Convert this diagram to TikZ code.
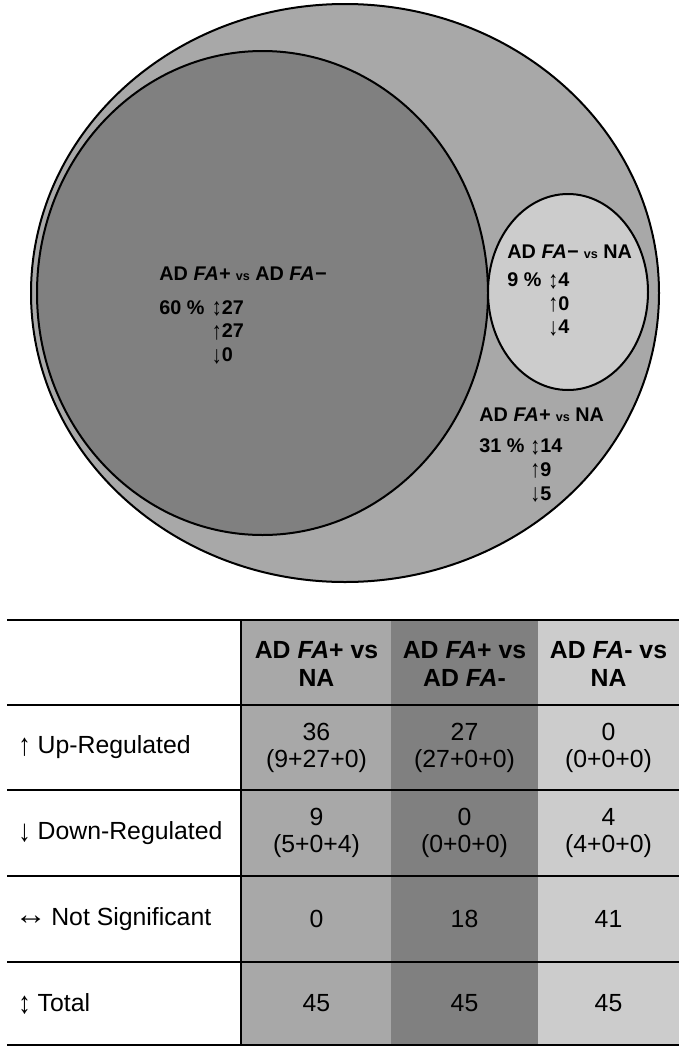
\documentclass[tikz,border=0pt]{standalone}
\usepackage{fontspec}
\setmainfont{Liberation Sans}
\usepackage{tikz}
\definecolor{midgray}{gray}{0.66}
\definecolor{darkgray}{gray}{0.50}
\definecolor{lightgray}{gray}{0.80}
% thin, tall arrow glyphs
\newcommand{\arw}[1]{\raisebox{-0.08em}{\scalebox{1}[1.25]{\mdseries#1}}}
\newcommand{\updn}{\arw{↕}}
\newcommand{\upar}{\arw{↑}}
\newcommand{\dnar}{\arw{↓}}
\newcommand{\lrar}{\hspace{-0.15em}\raisebox{0.05em}{\scalebox{1.3}[1.2]{↔}}\hspace{-0.1em}}
\newcommand{\vsm}{{\fontsize{6.3}{6}\selectfont vs}}
\tikzset{
  px/.style={x=0.5pt, y=-0.5pt},
  setline/.style={black, line width=1pt},
  tabline/.style={black, line width=1.3pt},
  vlbl/.style={font=\bfseries\fontsize{9.9}{10}\selectfont, inner sep=0pt, anchor=base west},
  rowlbl/.style={font=\fontsize{12.4}{13.5}\selectfont, inner sep=0pt, anchor=west},
  cell/.style={font=\fontsize{12.4}{13.5}\selectfont, inner sep=0pt, align=center},
  head/.style={cell, font=\bfseries\fontsize{12.4}{14}\selectfont},
}
\begin{document}
\begin{tikzpicture}[px]
  \useasboundingbox (0,0) rectangle (679,1050);
  % --- Euler diagram: outer set, dark set, light set ---
  \draw[setline, fill=midgray] (345,293) ellipse [x radius=314, y radius=289];
  \draw[setline, fill=darkgray] (262.5,293) ellipse [x radius=225.5, y radius=242];
  \draw[setline, fill=lightgray] (568,292) ellipse [x radius=80, y radius=98];

  % --- labels inside the dark set ---
  \node[vlbl] (dtitle) at (159,280) {AD \textit{FA+} \vsm{} AD \textit{FA−}};
  \node[vlbl] (dpct) at (159,314) {60 \%};
  \node[vlbl] (dtot) at (211.5,314) {\updn27};
  \node[vlbl] (dup)  at (211.5,337.5) {\upar27};
  \node[vlbl] (ddn)  at (211.5,361.5) {\dnar0};

  % --- labels inside the light set ---
  \node[vlbl] (ltitle) at (507,258.5) {AD \textit{FA−} \vsm{} NA};
  \node[vlbl] (lpct) at (507,286.5) {9 \%};
  \node[vlbl] (ltot) at (548,286.5) {\updn4};
  \node[vlbl] (lup)  at (548,310) {\upar0};
  \node[vlbl] (ldn)  at (548,333.5) {\dnar4};

  % --- labels in the outer set ---
  \node[vlbl] (mtitle) at (479,421.5) {AD \textit{FA+} \vsm{} NA};
  \node[vlbl] (mpct) at (479,452.5) {31 \%};
  \node[vlbl] (mtot) at (530,452.5) {\updn14};
  \node[vlbl] (mup)  at (530,476) {\upar9};
  \node[vlbl] (mdn)  at (530,500) {\dnar5};

  % --- table: shaded columns ---
  \fill[midgray]   (242,620) rectangle (391,1045);
  \fill[darkgray]  (391,620) rectangle (538,1045);
  \fill[lightgray] (538,620) rectangle (679,1045);

  % --- table: rules ---
  \draw[tabline] (7,620) -- (679,620);
  \draw[tabline] (7,705) -- (679,705);
  \draw[tabline] (7,790) -- (679,790);
  \draw[tabline] (7,876) -- (679,876);
  \draw[tabline] (7,962) -- (679,962);
  \draw[tabline] (7,1045) -- (679,1045);
  \draw[tabline] (241,620) -- (241,1045);

  % --- table: header ---
  \node[head] (hmid)   at (316.5,664) {AD \textit{FA}+ vs\\NA};
  \node[head] (hdark)  at (464.5,664) {AD \textit{FA}+ vs\\AD \textit{FA}-};
  \node[head] (hlight) at (608.5,664) {AD \textit{FA}- vs\\NA};

  % --- table: row labels ---
  \node[rowlbl] (rup)  at (18,747.5) {\upar{} Up-Regulated};
  \node[rowlbl] (rdn)  at (18,833)   {\dnar{} Down-Regulated};
  \node[rowlbl] (rns)  at (18,919)   {\lrar{} Not Significant};
  \node[rowlbl] (rtot) at (18,1003.5) {\updn{} Total};

  % --- table: values ---
  \node[cell] (upmid)   at (316.5,747.5) {36\\(9+27+0)};
  \node[cell] (updark)  at (464.5,747.5) {27\\(27+0+0)};
  \node[cell] (uplight) at (608.5,747.5) {0\\(0+0+0)};
  \node[cell] (dnmid)   at (316.5,833) {9\\(5+0+4)};
  \node[cell] (dndark)  at (464.5,833) {0\\(0+0+0)};
  \node[cell] (dnlight) at (608.5,833) {4\\(4+0+0)};
  \node[cell] (nsmid)   at (316.5,919) {0};
  \node[cell] (nsdark)  at (464.5,919) {18};
  \node[cell] (nslight) at (608.5,919) {41};
  \node[cell] (totmid)   at (316.5,1003.5) {45};
  \node[cell] (totdark)  at (464.5,1003.5) {45};
  \node[cell] (totlight) at (608.5,1003.5) {45};
\end{tikzpicture}
\end{document}
